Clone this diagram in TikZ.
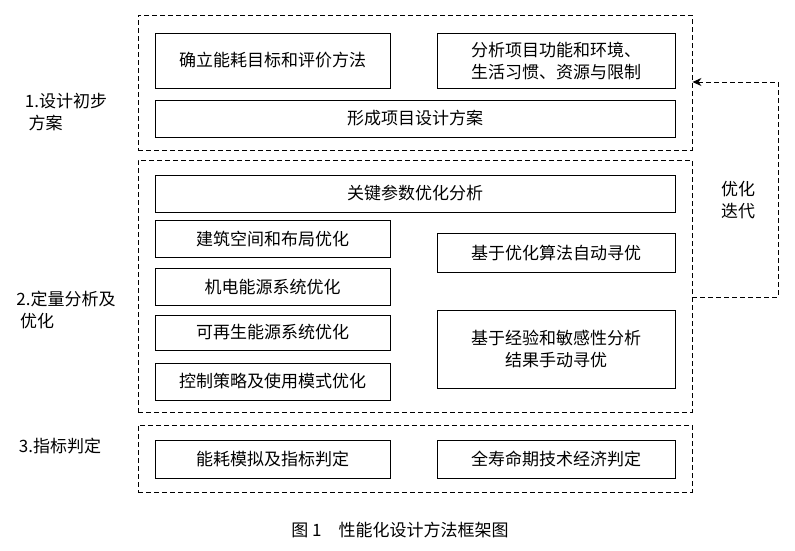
\documentclass[tikz,border=0pt]{standalone}
\usepackage{fontspec}
\setmainfont{Liberation Serif}
\newfontfamily\cjk{Noto Sans CJK SC}
\usetikzlibrary{arrows.meta}
\tikzset{every picture/.style={line width=0.9pt}}
\begin{document}
\begin{tikzpicture}[x=1pt,y=-1pt,
  box/.style={draw, align=center, inner sep=0pt, font=\cjk\fontsize{17}{22}\selectfont},
  group/.style={draw, dashed, dash pattern=on 5pt off 3pt},
  side/.style={align=left, font=\cjk\fontsize{17}{22}\selectfont}]
\useasboundingbox (0,0) rectangle (795,550);
%group frames
\node[group, minimum width=554pt, minimum height=135pt] (stageA) at (415,82.5) {};
\node[group, minimum width=554pt, minimum height=252pt] (stageB) at (415,286) {};
\node[group, minimum width=554pt, minimum height=67pt] (stageC) at (415,458.5) {};
%stage 1
\node[box, minimum width=235pt, minimum height=55pt] (goal) at (272.5,60.5) {确立能耗目标和评价方法};
\node[box, minimum width=238pt, minimum height=55pt] (context) at (556,60.5) {分析项目功能和环境、\\生活习惯、资源与限制};
\node[box, minimum width=520pt, minimum height=37pt] (scheme) at (415,118.5) {形成项目设计方案};
%stage 2
\node[box, minimum width=520pt, minimum height=37pt] (keypar) at (415,193.5) {关键参数优化分析};
\node[box, minimum width=235pt, minimum height=37pt] (space) at (272.5,238.5) {建筑空间和布局优化};
\node[box, minimum width=235pt, minimum height=37pt] (mep) at (272.5,286.5) {机电能源系统优化};
\node[box, minimum width=235pt, minimum height=35pt] (renew) at (272.5,332.5) {可再生能源系统优化};
\node[box, minimum width=235pt, minimum height=37pt] (control) at (272.5,381.5) {控制策略及使用模式优化};
\node[box, minimum width=238pt, minimum height=39pt] (auto) at (556,252.5) {基于优化算法自动寻优};
\node[box, minimum width=238pt, minimum height=78pt] (manual) at (556,349) {基于经验和敏感性分析\\结果手动寻优};
%stage 3
\node[box, minimum width=235pt, minimum height=38pt] (sim) at (272.5,459) {能耗模拟及指标判定};
\node[box, minimum width=238pt, minimum height=38pt] (lcc) at (556,459) {全寿命期技术经济判定};
%side labels
\node[side] (labA) at (66,112) {1.设计初步\\\ 方案};
\node[side] (labB) at (66,310) {2.定量分析及\\\ 优化};
\node[side] (labC) at (60,446) {3.指标判定};
\node[side] (labIter) at (738,200) {优化\\迭代};
%feedback
\coordinate (fbIn) at (stageA.east |- 0,82);
\coordinate (fbOut) at (stageB.east |- 0,297);
\draw[dashed, dash pattern=on 5pt off 3pt, -{Stealth[length=9pt,width=8pt]}] (fbOut) -- (778,297) -- (778,82) -- (fbIn);
%caption
\node[font=\cjk\fontsize{17}{22}\selectfont] (cap) at (400,530) {图 1\quad 性能化设计方法框架图};
\end{tikzpicture}
\end{document}
